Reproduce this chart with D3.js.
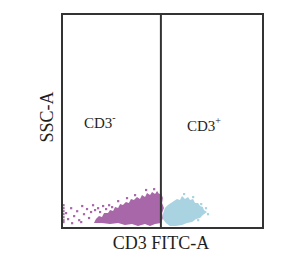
<!DOCTYPE html>
<html>
<head>
<meta charset="utf-8">
<title>CD3 gate</title>
<script src="https://d3js.org/d3.v7.min.js"></script>
<style>
  body { margin: 0; background: #fff; }
  text { font-family: "Liberation Serif", "Times New Roman", serif; fill: #1e1e1e; }
</style>
</head>
<body>
<div id="chart"></div>
<script>
// channel values (0-1000)
var gateX = 492;

// dense CD3- population outline [FITC, SSC]
var negCloud = [[159,23],[169,42],[184,56],[199,51],[209,70],[229,70],[239,84],[254,79],[264,98],[279,93],
  [289,112],[303,107],[318,121],[333,117],[343,136],[358,131],[373,145],[388,136],[398,154],[413,145],
  [423,164],[438,154],[448,168],[463,159],[473,173],[483,159],[493,164],[502,140],[498,117],[507,93],
  [498,70],[502,47],[493,23],[463,19],[438,9],[413,19],[378,9],[348,19],[313,14],[279,23],[239,19],[199,23]];
// scattered CD3- events
var negDots = [[7,107],[7,93],[7,79],[7,65],[7,51],[7,37],[7,28],
  [20,70],[30,42],[45,93],[60,56],[75,79],[85,37],[100,103],[109,65],[124,89],[134,47],[144,75],
  [154,107],[164,84],[179,93],[189,75],[204,103],[219,89],[234,107],[249,98],[95,28],[50,23],[174,33],
  [279,126],[323,140],[363,154],[418,178],[458,182]];

// CD3+ population outline
var posCloud = [[502,65],[512,93],[527,107],[542,117],[557,126],[572,136],[587,131],[597,150],[612,136],
  [627,145],[637,131],[652,136],[662,117],[677,117],[687,103],[701,98],[706,84],[721,75],[701,61],
  [687,47],[667,42],[647,28],[622,23],[597,14],[567,9],[537,9],[517,23],[502,42]];
var posDots = [[607,159],[652,145],[692,112],[716,93],[726,65],[677,37]];

var W = 303, H = 256;
var svg = d3.select("#chart").append("svg")
  .attr("width", W).attr("height", H);

var x = d3.scaleLinear().domain([0, 1000]).range([62, 263]);
var y = d3.scaleLinear().domain([0, 1000]).range([228, 14]);

var purple = "#a767a9", blue = "#a9d3e1";

var area = d3.line()
  .x(function(d) { return x(d[0]); })
  .y(function(d) { return y(d[1]); })
  .curve(d3.curveLinearClosed);

svg.append("path").datum(negCloud).attr("d", area).attr("fill", purple);
svg.append("path").datum(posCloud).attr("d", area).attr("fill", blue);

svg.selectAll(".neg").data(negDots).enter().append("rect")
  .attr("x", function(d) { return x(d[0]) - 1; })
  .attr("y", function(d) { return y(d[1]) - 1; })
  .attr("width", 2.2).attr("height", 2.2)
  .attr("fill", purple);

svg.selectAll(".pos").data(posDots).enter().append("rect")
  .attr("x", function(d) { return x(d[0]) - 1; })
  .attr("y", function(d) { return y(d[1]) - 1; })
  .attr("width", 2.2).attr("height", 2.2)
  .attr("fill", blue);

// frame and gate line
svg.append("rect")
  .attr("x", x(0)).attr("y", y(1000))
  .attr("width", x(1000) - x(0)).attr("height", y(0) - y(1000))
  .attr("fill", "none").attr("stroke", "#333").attr("stroke-width", 2);

svg.append("line")
  .attr("x1", x(gateX)).attr("x2", x(gateX))
  .attr("y1", y(1000)).attr("y2", y(0))
  .attr("stroke", "#333").attr("stroke-width", 2);

// labels
svg.append("text")
  .attr("x", 161).attr("y", 249)
  .attr("text-anchor", "middle")
  .style("font-size", "18px")
  .text("CD3 FITC-A");

svg.append("text")
  .attr("transform", "translate(53,117) rotate(-90)")
  .attr("text-anchor", "middle")
  .style("font-size", "18px")
  .text("SSC-A");

var neg = svg.append("text").attr("x", 84).attr("y", 128).style("font-size", "15px");
neg.append("tspan").text("CD3");
neg.append("tspan").attr("dy", -7).style("font-size", "10px").text("-");

var pos = svg.append("text").attr("x", 187).attr("y", 131).style("font-size", "15px");
pos.append("tspan").text("CD3");
pos.append("tspan").attr("dy", -7).style("font-size", "10px").text("+");
</script>
</body>
</html>
